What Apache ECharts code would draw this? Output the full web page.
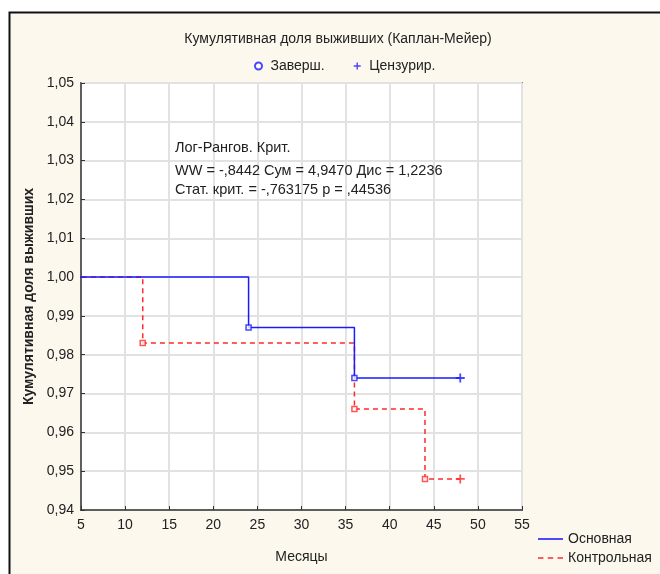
<!DOCTYPE html>
<html><head><meta charset="utf-8">
<script src="https://cdn.jsdelivr.net/npm/echarts@6/dist/echarts.min.js"></script>
<style>html,body{margin:0;padding:0;background:#fff}#c{width:660px;height:574px}</style>
</head><body><div id="c"></div>
<script>
// Data
const mainTimes = [0, 24, 36, 48];
const mainSurv = [1.0, 0.987, 0.974, 0.974];
const ctrlTimes = [0, 12, 36, 44, 48];
const ctrlSurv = [1.0, 0.983, 0.966, 0.948, 0.948];
const mainEventTimes = [24, 36];
const mainEventSurv = [0.987, 0.974];
const ctrlEventTimes = [12, 36, 44];
const ctrlEventSurv = [0.983, 0.966, 0.948];
const mainCensTimes = [48];
const mainCensSurv = [0.974];
const ctrlCensTimes = [48];
const ctrlCensSurv = [0.948];
const seriesNames = ['Основная', 'Контрольная'];
const markerNames = ['Заверш.', 'Цензурир.'];
const xTicks = [5,10,15,20,25,30,35,40,45,50,55];
const yTicks = [0.94,0.95,0.96,0.97,0.98,0.99,1.00,1.01,1.02,1.03,1.04,1.05];
const statLines = ['Лог-Рангов. Крит.', 'WW = -,8442 Сум = 4,9470 Дис = 1,2236', 'Стат. крит. = -,763175 p = ,44536'];

const BLUE = '#1a1aff', RED = '#ff2a2a';
const FONT = '"Liberation Sans", Arial, sans-serif';
const FS = 14;
const zip = (a, b) => a.map((v, i) => [v, b[i]]);
const PLUS = 'path://M4,0H6V4H10V6H6V10H4V6H0V4H4Z';
const SOLID = 'path://M0,0H24V1.5H0Z';
const DASH = 'path://M0,0H5V1.5H0Z M9,0H14V1.5H9Z M18,0H23V1.5H18Z';

const chart = echarts.init(document.getElementById('c'), null, {renderer: 'canvas'});
chart.setOption({
  backgroundColor: '#ffffff',
  animation: false,
  textStyle: {fontFamily: FONT},
  title: {
    text: 'Кумулятивная доля выживших (Каплан-Мейер)',
    left: 333, top: 27, textAlign: 'center',
    textStyle: {fontFamily: FONT, fontSize: FS, fontWeight: 'normal', color: '#222'}
  },
  graphic: [
    {type: 'rect', z: -10, shape: {x: 9.5, y: 12.5, width: 700, height: 600},
     style: {fill: '#fdf8ee', stroke: '#111', lineWidth: 2}},
    {type: 'text', z: 100, left: 175, top: 140, style: {text: statLines[0], font: '14.5px ' + FONT, fill: '#222'}},
    {type: 'text', z: 100, left: 175, top: 163, style: {text: statLines[1], font: '14.5px ' + FONT, fill: '#222'}},
    {type: 'text', z: 100, left: 175, top: 182, style: {text: statLines[2], font: '14.5px ' + FONT, fill: '#222'}}
  ],
  legend: [
    {
      data: [
        {name: markerNames[0], icon: 'circle', itemStyle: {color: '#fff', borderColor: BLUE, borderWidth: 2}},
        {name: markerNames[1], icon: PLUS, itemStyle: {color: BLUE}}
      ],
      left: 249, top: 54, itemWidth: 14, itemHeight: 7, itemGap: 29,
      textStyle: {fontFamily: FONT, fontSize: FS, color: '#222'},
      selectedMode: false
    },
    {
      data: [
        {name: seriesNames[0], icon: SOLID, itemStyle: {color: BLUE}},
        {name: seriesNames[1], icon: DASH, itemStyle: {color: RED}}
      ],
      orient: 'vertical', left: 533, top: 527, itemWidth: 25, itemHeight: 4, itemGap: 5,
      textStyle: {fontFamily: FONT, fontSize: FS, color: '#222'},
      selectedMode: false
    }
  ],
  grid: {left: 81, top: 83, right: 138, bottom: 64, show: true, borderColor: '#333', borderWidth: 1.5, backgroundColor: '#fff'},
  xAxis: {
    type: 'value', min: 5, max: 55, interval: 5,
    name: 'Месяцы', nameLocation: 'middle', nameGap: 40,
    nameTextStyle: {fontFamily: FONT, fontSize: FS, color: '#222'},
    axisLine: {lineStyle: {color: '#333', width: 1.5}},
    axisTick: {inside: true, length: 4, lineStyle: {color: '#333'}},
    axisLabel: {fontFamily: FONT, fontSize: FS, color: '#222', margin: 8,
      formatter: v => xTicks.includes(v) ? String(v) : ''},
    splitLine: {show: true, lineStyle: {color: '#e2e2e2', width: 2}}
  },
  yAxis: {
    type: 'value', min: 0.94, max: 1.05, interval: 0.01,
    name: 'Кумулятивная доля выживших', nameLocation: 'middle', nameGap: 44,
    nameTextStyle: {fontFamily: FONT, fontSize: 14, fontWeight: 'bold', color: '#222'},
    axisLine: {show: true, lineStyle: {color: '#333', width: 1.5}},
    axisTick: {show: true, inside: true, length: 4, lineStyle: {color: '#333'}},
    axisLabel: {fontFamily: FONT, fontSize: FS, color: '#222', margin: 7,
      formatter: v => {
        const t = yTicks.find(y => Math.abs(y - v) < 1e-6);
        return t === undefined ? '' : t.toFixed(2).replace('.', ',');
      }},
    splitLine: {show: true, lineStyle: {color: '#e2e2e2', width: 2}}
  },
  series: [
    {name: seriesNames[0], type: 'line', step: 'end', data: zip(mainTimes, mainSurv),
     symbol: 'none', clip: true, z: 5,
     lineStyle: {color: BLUE, width: 1.5}, itemStyle: {color: BLUE}},
    {name: seriesNames[1], type: 'line', step: 'end', data: zip(ctrlTimes, ctrlSurv),
     symbol: 'none', clip: true, z: 4,
     lineStyle: {color: RED, width: 1.5, type: [5, 4]}, itemStyle: {color: RED}},
    {name: markerNames[0], type: 'scatter', symbol: 'rect', symbolSize: 5, z: 6,
     itemStyle: {color: BLUE},
     data: [
       ...zip(mainEventTimes, mainEventSurv).map(p => ({value: p, itemStyle: {color: '#fff', borderColor: BLUE, borderWidth: 1.5}})),
       ...zip(ctrlEventTimes, ctrlEventSurv).map(p => ({value: p, itemStyle: {color: '#fff', borderColor: RED, borderWidth: 1.5}}))
     ]},
    {name: markerNames[1], type: 'scatter', symbol: PLUS, symbolSize: 9, z: 6,
     itemStyle: {color: BLUE},
     data: [
       ...zip(mainCensTimes, mainCensSurv).map(p => ({value: p, itemStyle: {color: BLUE}})),
       ...zip(ctrlCensTimes, ctrlCensSurv).map(p => ({value: p, itemStyle: {color: RED}}))
     ]}
  ]
});
</script></body></html>
